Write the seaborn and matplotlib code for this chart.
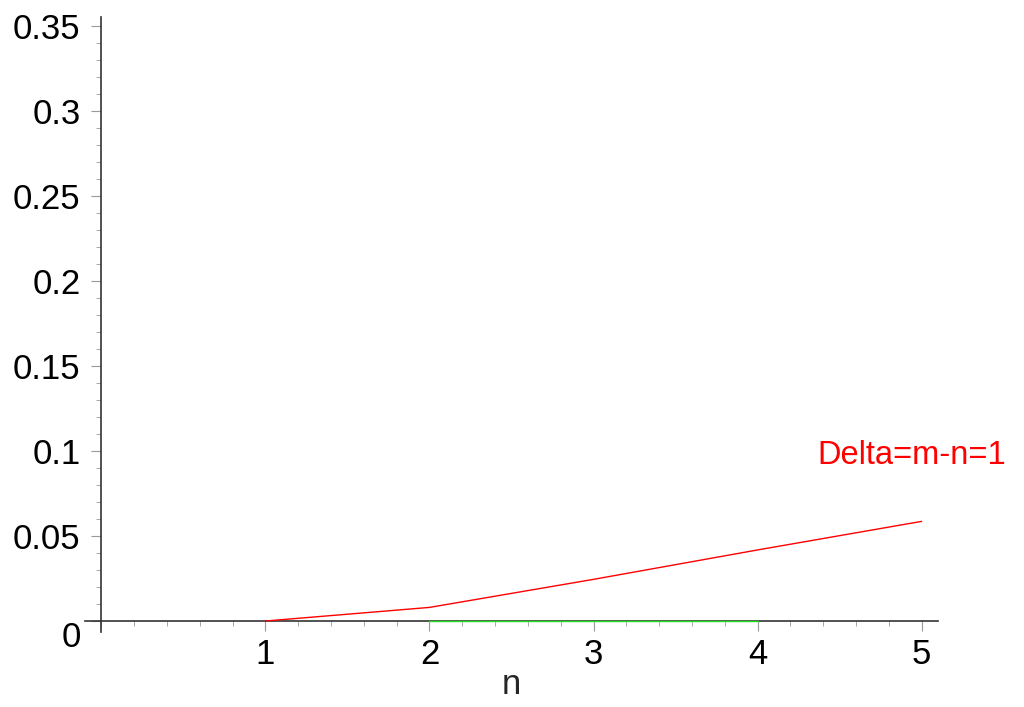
import numpy as np
import pandas as pd
import seaborn as sns
import matplotlib.pyplot as plt
from matplotlib.ticker import MultipleLocator

# values
n_red = [1, 2, 3, 4, 5]
delta_red = [0.0, 0.0080, 0.0245, 0.0418, 0.0586]
n_green = [2, 3, 4]
delta_green = [0.0, 0.0, 0.0]
y_ticks = [0, 0.05, 0.1, 0.15, 0.2, 0.25, 0.3, 0.35]
y_tick_labels = ["0", "0.05", "0.1", "0.15", "0.2", "0.25", "0.3", "0.35"]
x_ticks = [1, 2, 3, 4, 5]

sns.set_style('ticks')
plt.rcParams['font.family'] = ['Liberation Sans', 'DejaVu Sans']

red = pd.DataFrame({'n': n_red, 'v': delta_red})
green = pd.DataFrame({'n': n_green, 'v': delta_green})

fig = plt.figure(figsize=(10.24, 7.07), dpi=100)
ax = fig.add_axes([0.083, 0.106, 0.833, 0.870])

sns.lineplot(data=green, x='n', y='v', color='#22dd22', linewidth=1.0, ax=ax)
sns.lineplot(data=red, x='n', y='v', color='#ff0000', linewidth=1.0, ax=ax)

ax.set_xlim(-0.1, 5.1)
ax.set_ylim(-0.0065, 0.3553)

# axes crossing at the origin
for side in ['top', 'right']:
    ax.spines[side].set_visible(False)
ax.spines['left'].set_position(('data', 0))
ax.spines['bottom'].set_position(('data', 0))
for side in ['left', 'bottom']:
    ax.spines[side].set_color('#333333')
    ax.spines[side].set_linewidth(1.2)
    ax.spines[side].set_zorder(1)

ax.set_xticks(x_ticks)
ax.set_xticklabels([str(v) for v in x_ticks])
ax.set_yticks(y_ticks)
ax.set_yticklabels(y_tick_labels)
ax.xaxis.set_minor_locator(MultipleLocator(0.2))
ax.yaxis.set_minor_locator(MultipleLocator(0.01))

ax.tick_params(axis='both', which='both', bottom=True, left=True, top=False, right=False)
ax.tick_params(axis='both', which='major', length=7, width=0.8, color='#999999',
               labelsize=25, labelcolor='black', direction='out')
ax.tick_params(axis='both', which='minor', length=3.5, width=0.6, color='#999999', direction='out')
ax.tick_params(axis='y', which='major', pad=8)
ax.tick_params(axis='x', which='major', pad=5)
ax.yaxis.get_ticklabels()[0].set_va('top')

ax.set_xlabel('n', fontsize=25, labelpad=-2)
ax.set_ylabel('')

ax.text(4.94, 0.0976, 'Delta=m-n=1', color='#ff0000', fontsize=23.5,
        ha='center', va='center')

fig.savefig('out.png', dpi=100)
